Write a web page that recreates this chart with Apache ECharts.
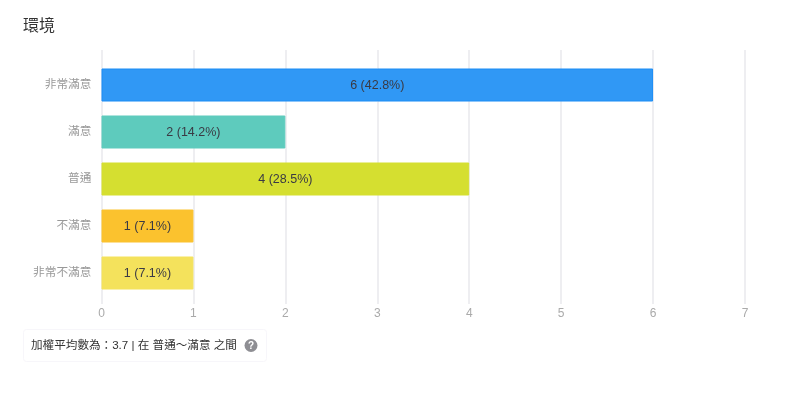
<!DOCTYPE html>
<html><head><meta charset="utf-8">
<style>html,body{margin:0;padding:0;background:#fff}#c{width:800px;height:404px}</style>
<script src="https://cdn.jsdelivr.net/npm/echarts@6/dist/echarts.min.js"></script>
</head><body><div id="c"></div>
<script>
const categories = ['非常滿意','滿意','普通','不滿意','非常不滿意'];
const counts = [6,2,4,1,1];
const percents = ['42.8%','14.2%','28.5%','7.1%','7.1%'];
const colors = ['#3098f5','#5ecbbd','#d5df30','#fbc22e','#f4e25c'];
const borders = ['#1a8cf5','#5ecbbd','#d5df30','#fbc22e','#f4e25c'];
const xTicks = [0,7];
const titleText = '環境';
const noteText = '加權平均數為\uFF1A3.7 | 在 普通\uFF5E滿意 之間';
const font = '"Liberation Sans","Noto Sans CJK TC",sans-serif';
const chart = echarts.init(document.getElementById('c'),null,{renderer:'canvas'});
chart.setOption({
  animation:false,
  backgroundColor:'#fff',
  title:{text:titleText,left:18,top:14,textStyle:{fontFamily:font,fontSize:16,fontWeight:'normal',color:'#333'}},
  grid:[
    {left:101.5,right:55,top:61.5,height:235},
    {left:101.5,right:55,top:50,height:254}
  ],
  xAxis:[
    {gridIndex:0,type:'value',min:xTicks[0],max:xTicks[1],interval:1,
      axisLine:{show:false},axisTick:{show:false},splitLine:{show:false},
      axisLabel:{show:false}},
    {gridIndex:1,type:'value',min:xTicks[0],max:xTicks[1],interval:1,
      axisLine:{show:false},axisTick:{show:false},
      splitLine:{show:true,lineStyle:{color:'#e9e9ec',width:1.5}},
      axisLabel:{color:'#aaa',fontSize:12,margin:4,fontFamily:font}}
  ],
  yAxis:[
    {gridIndex:0,type:'category',inverse:true,data:categories,
      axisLine:{show:false},axisTick:{show:false},
      axisLabel:{color:'#999',fontSize:11.7,margin:10,padding:[4,0,0,0],fontFamily:font}},
    {gridIndex:1,type:'value',show:false,min:0,max:1}
  ],
  series:[{
    type:'bar',xAxisIndex:0,yAxisIndex:0,barWidth:33,z:5,
    data:counts.map((v,i)=>({value:v,itemStyle:{color:colors[i],borderColor:borders[i],borderWidth:1}})),
    label:{show:true,position:'inside',offset:[0,1],fontFamily:font,fontSize:12.5,color:'#3a3a44',
      formatter:p=>p.value+' ('+percents[p.dataIndex]+')'}
  }],
  graphic:[
    {type:'rect',shape:{x:23.5,y:329.5,width:243,height:32,r:3},
      style:{fill:'#fff',stroke:'#f7f6fa',lineWidth:1}},
    {type:'text',x:31,y:346,style:{text:noteText,font:'11.6px '+font,fill:'#333',verticalAlign:'middle'}},
    {type:'circle',shape:{cx:251,cy:345.5,r:6.5},style:{fill:'#8e8e93'}},
    {type:'text',x:251,y:346,style:{text:'?',font:'bold 10px '+font,fill:'#fff',align:'center',verticalAlign:'middle'}}
  ]
});
</script></body></html>
